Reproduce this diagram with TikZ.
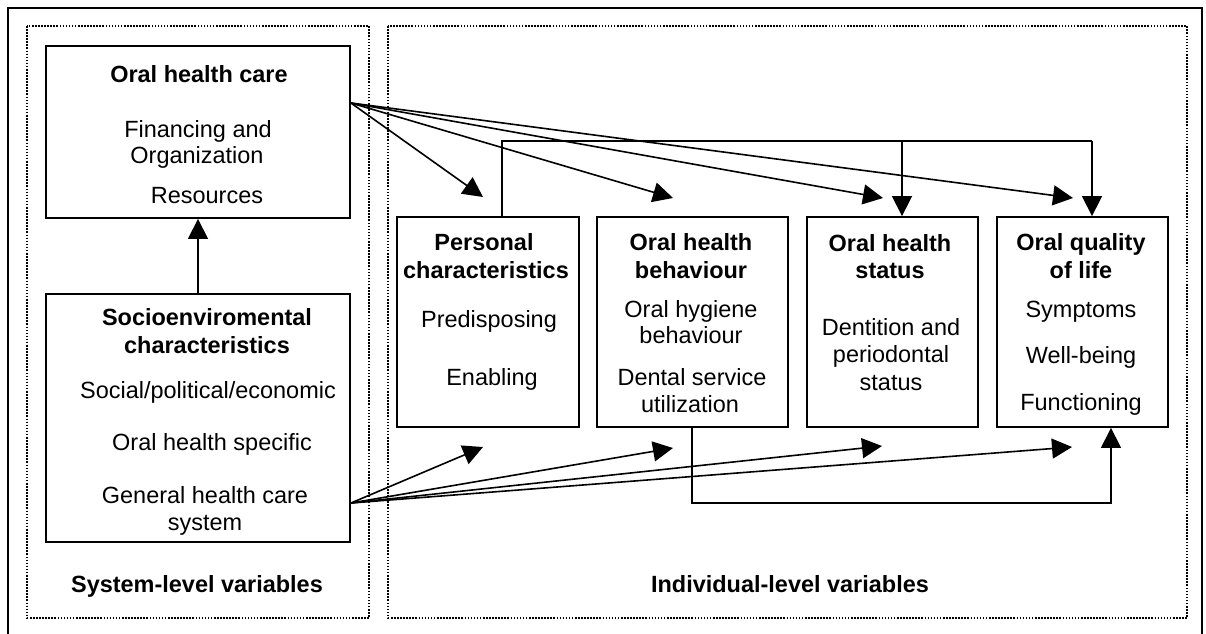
\documentclass[tikz,border=0pt]{standalone}
\usepackage{fontspec}
\setmainfont{Liberation Sans}
\usetikzlibrary{arrows.meta,fit}
\begin{document}
\begin{tikzpicture}[x=0.75pt,y=-0.75pt,
  box/.style={draw,line width=1.4pt,inner sep=0pt,fill=none},
  txt/.style={anchor=base,inner sep=0pt,font=\fontsize{17.6}{20}\selectfont},
  ttl/.style={txt,font=\fontsize{17.6}{20}\selectfont\bfseries},
  wire/.style={line width=1.2pt},
  arr/.style={wire,-{Triangle[length=15pt,width=15pt]}},
  region/.style={line width=1.2pt,dash pattern=on 1.2pt off 1.1pt}]
\useasboundingbox (0,0) rectangle (1206,633);

% outer frame and the two variable regions
\draw[line width=1.4pt] (8,660) -- (8,8) -- (1202,8) -- (1202,660);
\draw[region] (27,26) rectangle (369,618);
\draw[region] (388,26) rectangle (1187,618);

% system-level boxes
\node[box,fit={(46,46) (350,218)}] (ohc) {};
\node[box,fit={(46,294) (350,542)}] (socio) {};

% individual-level boxes
\node[box,fit={(397,217) (579,427)}] (pers) {};
\node[box,fit={(597,217) (788,427)}] (behav) {};
\node[box,fit={(807,217) (978,427)}] (stat) {};
\node[box,fit={(997,217) (1168,427)}] (qol) {};

% texts: oral health care
\node[ttl] (ohc-t) at (199,82) {Oral health care};
\node[txt] (ohc-a) at (198,137) {Financing and};
\node[txt] (ohc-b) at (197,163) {Organization};
\node[txt] (ohc-c) at (207,203) {Resources};

% texts: socioenvironmental
\node[ttl] (soc-t1) at (207,325) {Socioenviromental};
\node[ttl] (soc-t2) at (207,353) {characteristics};
\node[txt] (soc-a) at (208,398) {Social/political/economic};
\node[txt] (soc-b) at (212,450) {Oral health specific};
\node[txt] (soc-c1) at (205,503) {General health care};
\node[txt] (soc-c2) at (205,530) {system};

% texts: personal characteristics
\node[ttl] (per-t1) at (484,250) {Personal};
\node[ttl] (per-t2) at (486,278) {characteristics};
\node[txt] (per-a) at (489,327) {Predisposing};
\node[txt] (per-b) at (492,385) {Enabling};

% texts: behaviour
\node[ttl] (beh-t1) at (691,250) {Oral health};
\node[ttl] (beh-t2) at (691,278) {behaviour};
\node[txt] (beh-a1) at (691,317) {Oral hygiene};
\node[txt] (beh-a2) at (691,343) {behaviour};
\node[txt] (beh-b1) at (692,385) {Dental service};
\node[txt] (beh-b2) at (690,412) {utilization};

% texts: status
\node[ttl] (sta-t1) at (890,251) {Oral health};
\node[ttl] (sta-t2) at (890,278) {status};
\node[txt] (sta-a1) at (891,335) {Dentition and};
\node[txt] (sta-a2) at (891,362) {periodontal};
\node[txt] (sta-a3) at (891,390) {status};

% texts: quality of life
\node[ttl] (qol-t1) at (1081,250) {Oral quality};
\node[ttl] (qol-t2) at (1081,278) {of life};
\node[txt] (qol-a) at (1081,317) {Symptoms};
\node[txt] (qol-b) at (1081,363) {Well-being};
\node[txt] (qol-c) at (1081,410) {Functioning};

% region captions
\node[ttl] (sys-lbl) at (197,592) {System-level variables};
\node[ttl] (ind-lbl) at (790,592) {Individual-level variables};

% socioenvironment -> oral health care
\draw[arr] (socio.north) -- (ohc.south);

% fan out of oral health care
\coordinate (ohcout) at (ohc.east |- 0,103);
\coordinate (tp1) at (483,197);
\coordinate (tb1) at (673,198);
\coordinate (ts1) at (883,198);
\coordinate (tq1) at (1073,198);
\draw[arr] (ohcout) -- (tp1);
\draw[arr] (ohcout) -- (tb1);
\draw[arr] (ohcout) -- (ts1);
\draw[arr] (ohcout) -- (tq1);

% fan out of socioenvironmental characteristics
\coordinate (socout) at (socio.east |- 0,503);
\coordinate (tp2) at (483,447);
\coordinate (tb2) at (673,448);
\coordinate (ts2) at (882,446);
\coordinate (tq2) at (1072,447);
\draw[arr] (socout) -- (tp2);
\draw[arr] (socout) -- (tb2);
\draw[arr] (socout) -- (ts2);
\draw[arr] (socout) -- (tq2);

% personal characteristics -> status and quality of life
\coordinate (pertop) at (pers.north -| 502,0);
\coordinate (bus1) at (502,141);
\coordinate (bus2) at (902,141);
\coordinate (bus3) at (1092,141);
\draw[wire] (pertop) -- (bus1) -- (bus3);
\draw[arr] (bus2) -- (stat.north -| bus2);
\draw[arr] (bus3) -- (qol.north -| bus3);

% behaviour -> quality of life
\coordinate (behbot) at (behav.south -| 692,0);
\coordinate (low1) at (692,503);
\coordinate (low2) at (1111,503);
\draw[arr] (behbot) -- (low1) -- (low2) -- (qol.south -| low2);
\end{tikzpicture}
\end{document}
